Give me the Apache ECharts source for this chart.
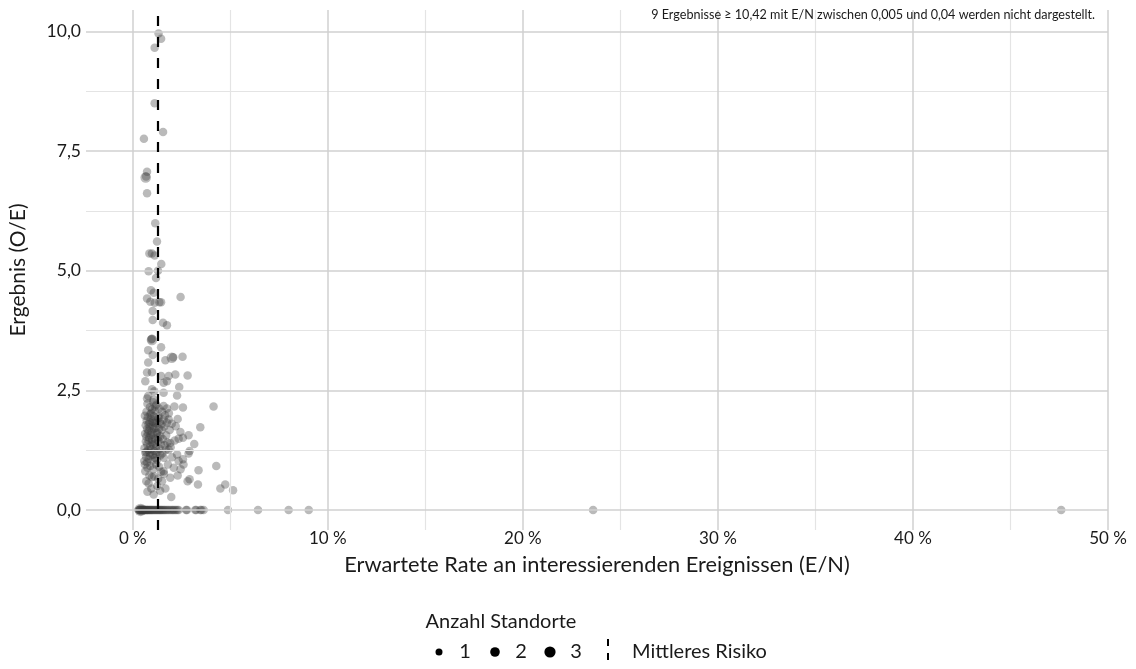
<!DOCTYPE html>
<html>
<head>
<meta charset="utf-8">
<script src="https://cdn.jsdelivr.net/npm/echarts@6/dist/echarts.min.js"></script>
<style>
html,body{margin:0;padding:0;background:#fff;}
#chart{width:1136px;height:669px;}
</style>
</head>
<body>
<div id="chart"></div>
<script>
// ---- data (x = E/N in %, y = O/E, n = Anzahl Standorte) ----
const pointsX = [
  1.32,1.45,1.12,1.12,1.55,0.57,0.73,0.66,0.68,0.73,
  1.15,1.24,0.85,0.98,1.12,1.46,0.81,1.29,1.19,0.93,
  1.07,0.73,0.90,1.12,1.36,1.45,2.45,1.02,1.02,1.55,
  1.75,0.98,0.98,0.95,1.45,0.79,1.02,2.00,2.07,2.55,
  1.67,0.79,0.73,0.98,1.45,1.84,2.18,2.81,0.64,1.58,
  1.75,2.38,0.98,1.10,1.58,2.27,0.73,1.07,0.79,1.58,
  1.75,2.13,2.57,4.14,0.98,1.15,0.90,1.32,1.58,1.84,
  0.81,1.07,3.46,1.75,1.89,2.44,2.86,2.57,2.35,3.15,
  1.92,1.84,2.27,2.91,2.86,2.57,2.35,4.28,3.37,1.58,
  1.92,2.91,2.81,3.34,4.74,4.49,5.14,0.69,0.81,0.98,
  1.50,1.67,1.07,1.97,0.64,0.73,0.59,0.64,
  0.62,0.71,0.77,0.86,0.92,1.01,1.07,1.16,1.22,1.31,1.38,1.47,
  0.66,0.73,0.81,0.87,0.96,1.03,1.09,1.17,1.26,1.34,1.49,1.61,
  0.63,0.69,0.77,0.83,0.91,0.99,1.05,1.13,1.21,1.29,1.41,1.54,1.71,
  0.67,0.74,0.81,0.89,0.98,1.04,1.13,1.19,1.31,1.43,1.63,1.77,
  0.60,0.69,0.79,0.86,0.93,1.03,1.10,1.19,1.27,1.37,1.51,1.69,1.94,
  0.68,0.81,0.89,1.01,1.12,1.24,1.41,1.59,2.01,2.15,
  0.75,0.88,1.05,1.20,1.35,1.50,0.70,0.95,1.12,1.65,1.85,2.00,2.20,2.30,
  0.62,0.75,0.90,1.05,1.20,1.35,1.45,1.80,2.10,0.85,1.10,1.30,1.60,0.95,1.25,1.40,0.75,2.30,2.60,2.45,
  0.30,0.33,0.36,0.38,0.40,0.42,0.45,0.47,0.50,0.52,0.55,0.58,0.60,0.63,0.66,0.70,
  0.73,0.76,0.80,0.84,0.88,0.92,0.96,1.00,1.05,1.10,1.15,1.20,1.25,1.30,1.35,1.40,
  1.45,1.50,1.56,1.62,1.68,1.75,1.82,1.90,1.98,2.05,2.12,2.20,2.28,2.35,2.73,2.78,
  3.20,3.25,3.46,3.52,3.63,4.88,6.42,7.99,9.02,23.60,47.60
];
const pointsY = [
  9.96,9.85,9.66,8.50,7.90,7.76,7.07,6.95,6.97,6.62,
  5.99,5.61,5.36,5.36,5.32,5.14,4.99,5.00,4.85,4.59,
  4.54,4.42,4.35,4.33,4.34,4.34,4.45,4.16,3.97,3.91,
  3.86,3.58,3.55,3.56,3.40,3.34,3.24,3.18,3.19,3.20,
  3.13,3.08,2.87,2.88,2.80,2.80,2.83,2.81,2.69,2.66,
  2.69,2.57,2.52,2.48,2.45,2.39,2.33,2.31,2.38,2.17,
  2.12,2.16,2.14,2.16,2.10,2.16,2.00,1.96,1.89,1.89,
  1.79,1.82,1.73,1.82,1.67,1.63,1.56,1.51,1.49,1.38,
  1.40,1.26,1.16,1.23,1.18,1.06,1.02,0.92,0.83,0.81,
  0.67,0.64,0.60,0.53,0.53,0.45,0.41,0.60,0.55,0.69,
  0.60,0.45,0.32,0.27,0.81,0.99,1.02,1.20,
  1.97,1.87,1.94,1.83,1.91,1.85,1.96,1.87,1.81,1.92,1.84,1.79,
  1.77,1.69,1.66,1.73,1.64,1.75,1.70,1.71,1.62,1.69,1.67,1.74,
  1.59,1.53,1.61,1.51,1.56,1.47,1.57,1.49,1.60,1.52,1.54,1.48,1.56,
  1.43,1.37,1.45,1.33,1.41,1.36,1.39,1.31,1.44,1.37,1.35,1.41,
  1.29,1.21,1.26,1.19,1.27,1.15,1.23,1.17,1.21,1.28,1.18,1.25,1.31,
  1.11,1.07,1.13,1.03,1.09,1.05,1.14,1.09,1.10,1.45,
  2.22,2.15,2.25,2.20,2.12,2.05,2.05,2.02,2.08,1.98,2.02,1.80,1.75,1.90,
  0.95,0.88,0.92,0.85,0.95,0.90,0.80,0.95,0.88,0.72,0.70,0.65,0.75,0.45,0.50,0.40,0.38,0.72,0.95,0.85,
  0,0,0,0,0,0,0,0,0,0,0,0,0,0,0,0,
  0,0,0,0,0,0,0,0,0,0,0,0,0,0,0,0,
  0,0,0,0,0,0,0,0,0,0,0,0,0,0,0,0,
  0,0,0,0,0,0,0,0,0,0,0
];
// Anzahl Standorte per point (1 unless listed)
const multiSiteIndex = [7, 32, 37, 218, 219];
const multiSiteCount = [2, 2, 2, 3, 2];

const meanRisk = 1.27;
const xTicks = [0, 10, 20, 30, 40, 50];
const xMinor = [5, 15, 25, 35, 45];
const yTicks = [0, 2.5, 5, 7.5, 10];
const yMinor = [1.25, 3.75, 6.25, 8.75];
const sizeLevels = [1, 2, 3];
const noteText = '9 Ergebnisse \u2265 10,42 mit E/N zwischen 0,005 und 0,04 werden nicht dargestellt.';

// ---- build ----
const FONT = 'Lato';
const counts = pointsX.map(() => 1);
multiSiteIndex.forEach((idx, k) => { if (idx < counts.length) counts[idx] = multiSiteCount[k]; });
const scatterData = pointsX.map((x, i) => [x, pointsY[i], counts[i]]);
const symbolSizes = {1: 8.5, 2: 10.5, 3: 12.5};

const chart = echarts.init(document.getElementById('chart'), null, {renderer: 'canvas'});

function gridLine(list, axis, color, width) {
  return list.map(v => ({[axis]: v, lineStyle: {color: color, width: width, type: 'solid'}}));
}

const option = {
  animation: false,
  backgroundColor: '#ffffff',
  textStyle: {fontFamily: FONT},
  grid: {left: 86, right: 28, top: 10, bottom: 139, containLabel: false},
  xAxis: {
    type: 'value', min: -2.4, max: 50,
    axisLine: {show: false}, axisTick: {show: false}, splitLine: {show: false},
    axisLabel: {
      customValues: xTicks, color: '#1a1a1a', fontSize: 17, fontFamily: FONT, margin: 0,
      formatter: v => v + ' %'
    },
    name: 'Erwartete Rate an interessierenden Ereignissen (E/N)',
    nameLocation: 'middle', nameGap: 24,
    nameTextStyle: {fontSize: 21.8, color: '#1a1a1a', fontFamily: FONT, verticalAlign: 'top'}
  },
  yAxis: {
    type: 'value', min: -0.42, max: 10.45,
    axisLine: {show: false}, axisTick: {show: false}, splitLine: {show: false},
    axisLabel: {
      customValues: yTicks, color: '#1a1a1a', fontSize: 17.5, fontFamily: FONT, margin: 5,
      formatter: v => v.toFixed(1).replace('.', ',')
    },
    name: 'Ergebnis (O/E)', nameLocation: 'middle', nameGap: 57,
    nameTextStyle: {fontSize: 21, color: '#1a1a1a', fontFamily: FONT}
  },
  series: [
    {
      type: 'line', data: [], silent: true, z: 1,
      markLine: {
        silent: true, symbol: ['none', 'none'], label: {show: false}, animation: false,
        data: [].concat(
          gridLine(xMinor, 'xAxis', '#e4e4e4', 1.2),
          gridLine(yMinor, 'yAxis', '#e4e4e4', 1.2),
          gridLine(xTicks, 'xAxis', '#d0d0d0', 1.5),
          gridLine(yTicks, 'yAxis', '#d0d0d0', 1.5)
        )
      }
    },
    {
      name: 'Standorte', type: 'scatter', z: 2,
      data: scatterData,
      symbol: 'circle',
      symbolSize: v => symbolSizes[v[2]],
      itemStyle: {color: 'rgba(60,60,60,0.44)'}
    },
    {
      type: 'line', data: [], silent: true, z: 3,
      markLine: {
        silent: true, symbol: ['none', 'none'], label: {show: false}, animation: false,
        data: [{xAxis: meanRisk, lineStyle: {color: '#000', width: 2.2, type: [10, 11]}}]
      }
    }
  ],
  graphic: [
    {type: 'text', x: 1095, y: 15, z: 10,
     style: {text: noteText, fontSize: 12.6, fontFamily: FONT, fill: '#1a1a1a', align: 'right', verticalAlign: 'middle'}},
    {type: 'text', x: 501, y: 622, z: 10,
     style: {text: 'Anzahl Standorte', fontSize: 20, fontFamily: FONT, fill: '#1a1a1a', align: 'center', verticalAlign: 'middle'}},
  ]
};

// legend row
const legendDotX = [439, 495, 550];
const legendDotR = [3.5, 4.8, 5.6];
sizeLevels.forEach((lvl, i) => {
  option.graphic.push({type: 'circle', shape: {cx: legendDotX[i], cy: 652, r: legendDotR[i]}, style: {fill: '#000'}, z: 10});
  option.graphic.push({type: 'text', x: legendDotX[i] + 26, y: 652, z: 10,
    style: {text: String(lvl), fontSize: 20, fontFamily: FONT, fill: '#1a1a1a', align: 'center', verticalAlign: 'middle'}});
});
option.graphic.push({type: 'line', shape: {x1: 608, y1: 639, x2: 608, y2: 664}, style: {stroke: '#000', lineWidth: 2, lineDash: [7, 7]}, z: 10});
option.graphic.push({type: 'text', x: 632, y: 652, z: 10,
  style: {text: 'Mittleres Risiko', fontSize: 20, fontFamily: FONT, fill: '#1a1a1a', align: 'left', verticalAlign: 'middle'}});

chart.setOption(option);
</script>
</body>
</html>
